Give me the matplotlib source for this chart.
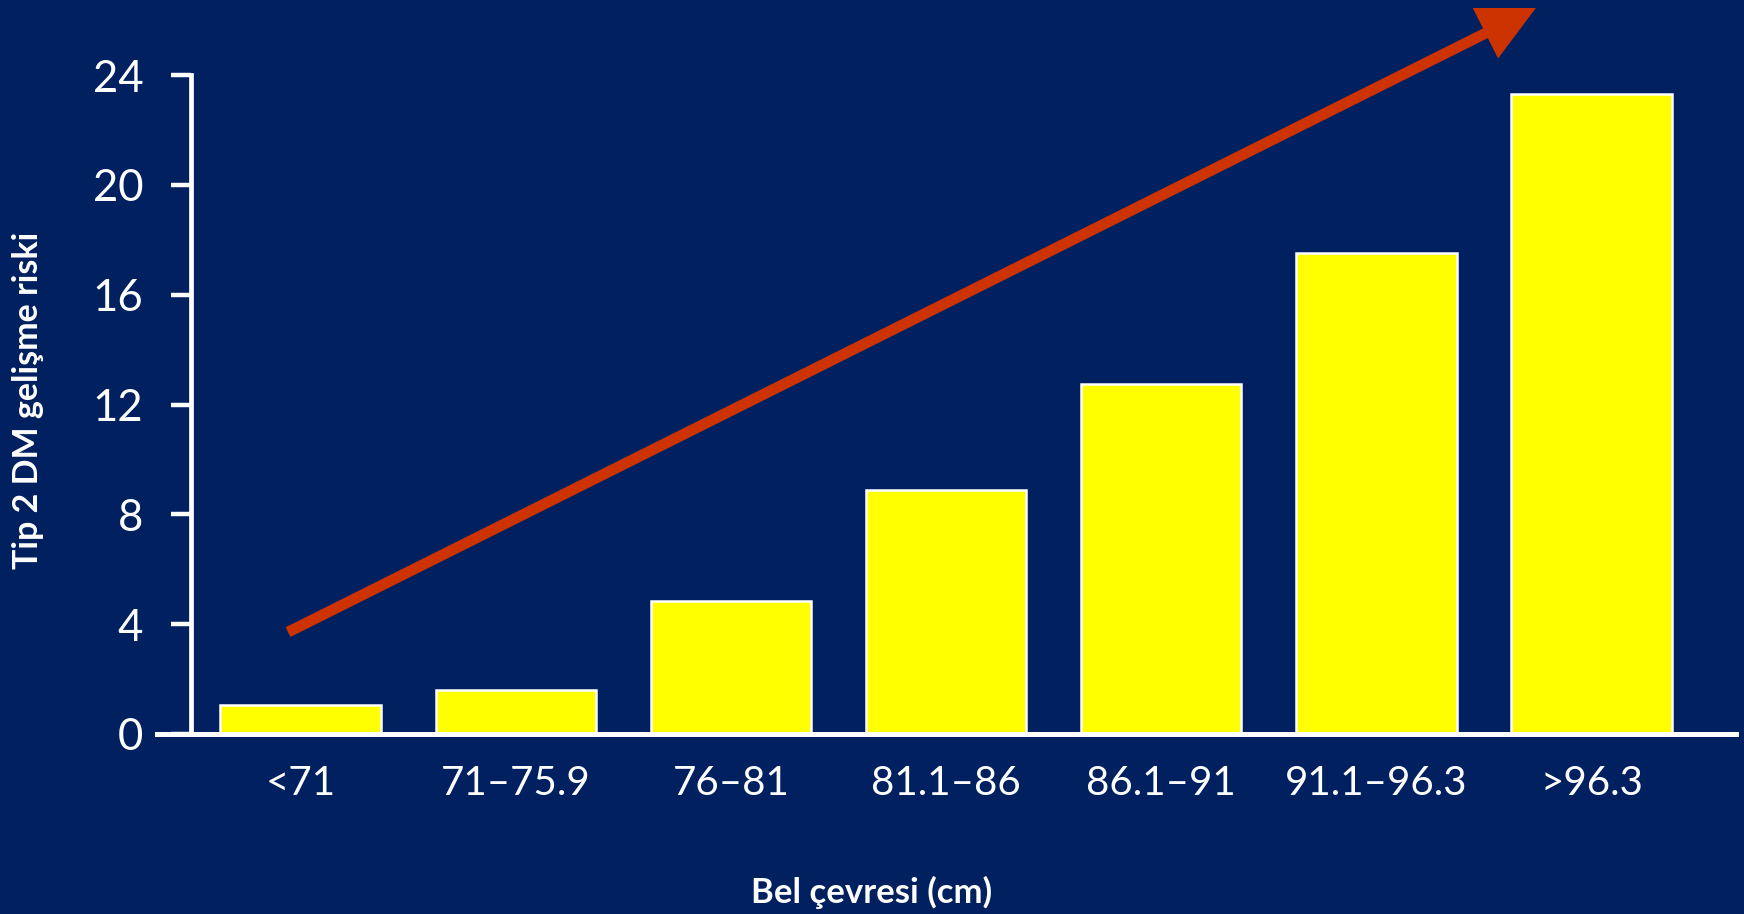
import matplotlib.pyplot as plt

# Waist circumference groups and type 2 diabetes risk
categories = ["<71", "71\u201375.9", "76\u201381", "81.1\u201386", "86.1\u201391", "91.1\u201396.3", ">96.3"]
risk = [1.05, 1.6, 4.85, 8.9, 12.75, 17.5, 23.3]
yticks = [0, 4, 8, 12, 16, 20, 24]

bg = "#002060"
plt.rcParams['font.family'] = ['Lato', 'DejaVu Sans']

W, H = 1744, 914
fig = plt.figure(figsize=(W / 100, H / 100), dpi=100, facecolor=bg)
ax = fig.add_axes([157 / W, (H - 734) / H, (1736 - 157) / W, (734 - 75) / H])
ax.set_facecolor(bg)

x = range(len(categories))
ax.bar(x, risk, width=0.745, color="#FFFF00", edgecolor="white", linewidth=1.8, zorder=2)

ax.set_xlim(-0.667, 6.671)
ax.set_ylim(0, 24)

for s in ["top", "right"]:
    ax.spines[s].set_visible(False)
ax.spines["left"].set_position(("data", -0.509))
ax.spines["left"].set_color("white")
ax.spines["left"].set_linewidth(3.4)
ax.spines["bottom"].set_color("white")
ax.spines["bottom"].set_linewidth(3.6)
ax.spines["bottom"].set_zorder(3)

ax.set_yticks(yticks)
ax.set_yticklabels([str(v) for v in yticks])
ax.tick_params(axis="y", colors="white", length=14.4, width=3.2, pad=20, labelsize=31.5)
ax.set_xticks(list(x))
ax.set_xticklabels(categories)
ax.tick_params(axis="x", colors="white", length=0, pad=22, labelsize=29)

# trend arrow over the bars
ax.annotate("", xy=(5.741, 26.44), xytext=(-0.058, 3.71),
            xycoords="data", textcoords="data", annotation_clip=False,
            arrowprops=dict(arrowstyle="-|>,head_length=28,head_width=14", mutation_scale=1,
                            color="#CC3300", lw=7.8, shrinkA=0, shrinkB=0, clip_on=False,
                            capstyle="butt", joinstyle="miter"),
            zorder=4)

fig.text(28 / W, 1 - 400 / H, "Tip 2 DM geli\u015fme riski", rotation=90, color="white",
         fontsize=24.5, fontweight="bold", ha="center", va="center")
fig.text(0.5, 1 - 892 / H, "Bel \u00e7evresi (cm)", color="white",
         fontsize=25, fontweight="bold", ha="center", va="center")

fig.savefig("out.png", dpi=100, facecolor=bg)
